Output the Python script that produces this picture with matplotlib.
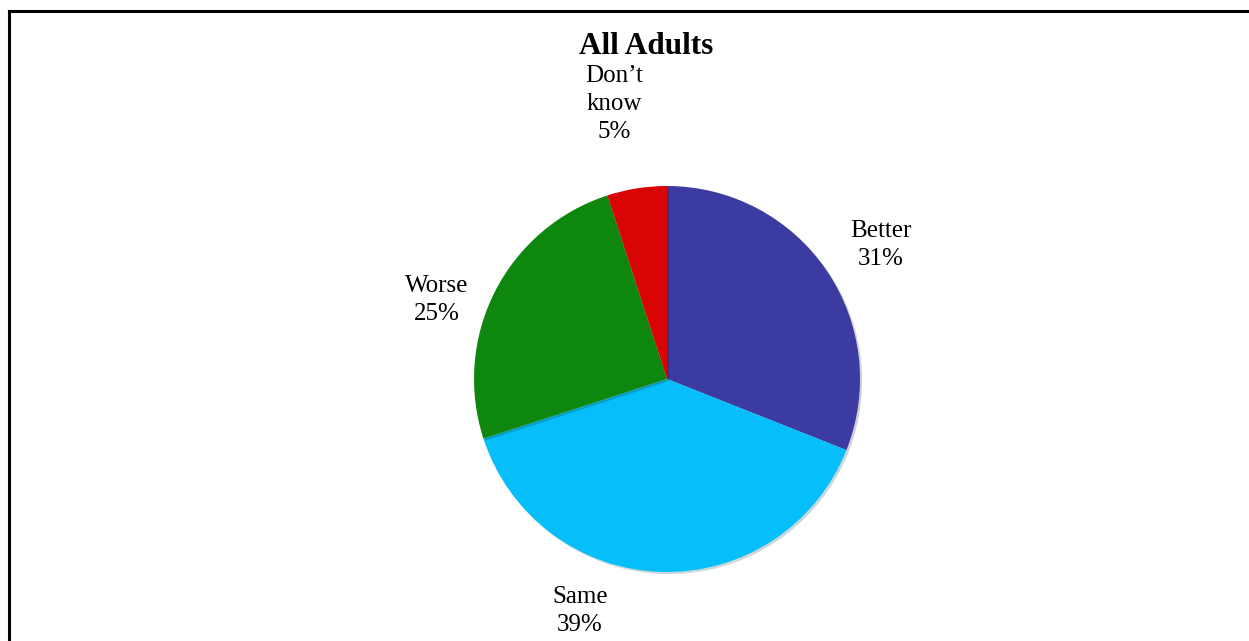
import matplotlib.pyplot as plt
import matplotlib.patheffects as pe
from matplotlib.lines import Line2D

categories = ["Better", "Same", "Worse", "Don\u2019t\nknow"]
values = [31, 39, 25, 5]
colors = ["#3B3BA2", "#05BEFA", "#0E870E", "#D90505"]
title = "All Adults"

plt.rcParams['font.family'] = ['Liberation Serif', 'DejaVu Serif']

W, H = 1249, 641
fig = plt.figure(figsize=(W / 100, H / 100), dpi=100)

# pie centre and radius in pixels
cx, cy, R = 667, 379, 193
ax = fig.add_axes([(cx - R) / W, (H - cy - R) / H, 2 * R / W, 2 * R / H])
wedges, _ = ax.pie(values, colors=colors, startangle=90, counterclock=False,
                   radius=1, wedgeprops=dict(linewidth=0))
for w in wedges:
    w.set_path_effects([pe.SimplePatchShadow(offset=(1.5, -1.5), alpha=0.2),
                        pe.Normal()])
ax.set_xlim(-1, 1)
ax.set_ylim(-1, 1)
ax.set_aspect('equal')
ax.axis('off')

# labels (pixel centres)
label_pos = [(881, 245), (580, 611), (437, 300), (614, 104)]
for name, v, (px, py) in zip(categories, values, label_pos):
    fig.text(px / W, 1 - py / H, f"{name}\n{v}%", ha='center', va='center',
             fontsize=18, linespacing=1.38, color='black')

fig.text(646 / W, 1 - 47 / H, title, ha='center', va='center',
         fontsize=22.5, fontweight='bold')

# frame: top and left lines only
fig.add_artist(Line2D([9 / W, 1], [1 - 11 / H, 1 - 11 / H],
                      transform=fig.transFigure, color='black', linewidth=2.2))
fig.add_artist(Line2D([9 / W, 9 / W], [0, 1 - 11 / H],
                      transform=fig.transFigure, color='black', linewidth=2.2))

fig.savefig("out.png", dpi=100)
